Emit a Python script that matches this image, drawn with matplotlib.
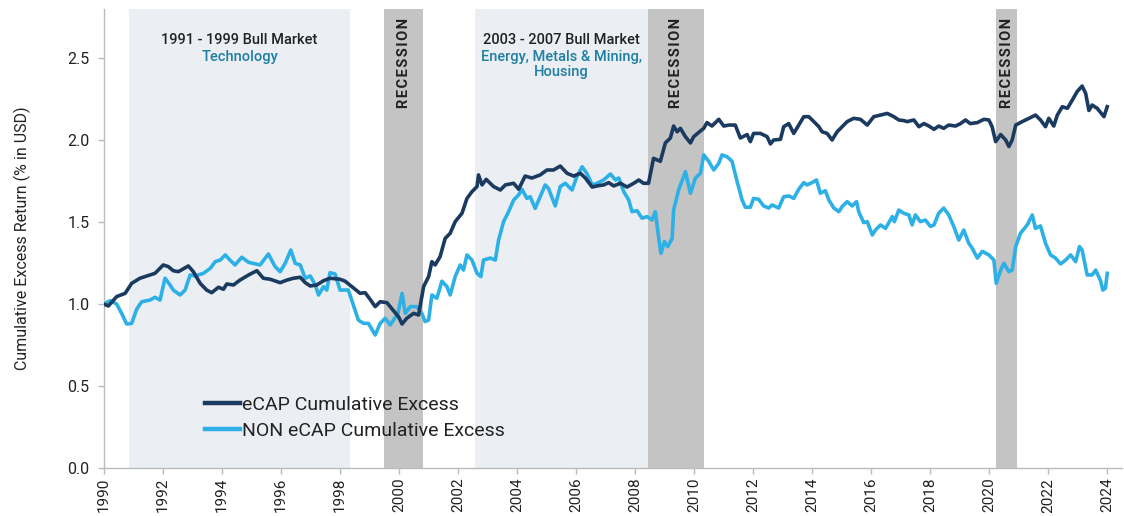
import matplotlib
matplotlib.use("Agg")
import matplotlib.pyplot as plt

plt.rcParams['font.family'] = ['Roboto', 'DejaVu Sans']

# ---------------- data ----------------
ecap_years = [1990.00, 1990.16, 1990.44, 1990.73, 1990.95, 1991.23, 1991.57, 1991.74, 1992.02, 1992.19,
              1992.36, 1992.53, 1992.87, 1993.04, 1993.27, 1993.49, 1993.66, 1993.89, 1994.06, 1994.17,
              1994.40, 1994.62, 1994.91, 1995.19, 1995.41, 1995.64, 1995.98, 1996.21, 1996.43, 1996.66,
              1996.83, 1997.00, 1997.22, 1997.45, 1997.67, 1998.01, 1998.18, 1998.41, 1998.69, 1998.86,
              1999.03, 1999.20, 1999.37, 1999.60, 1999.82, 1999.99, 2000.11, 2000.27, 2000.50, 2000.67,
              2000.84, 2001.01, 2001.12, 2001.23, 2001.40, 2001.57, 2001.74, 2001.91, 2002.14, 2002.31,
              2002.48, 2002.65, 2002.70, 2002.82, 2002.96, 2003.21, 2003.44, 2003.61, 2003.89, 2004.06,
              2004.28, 2004.51, 2004.79, 2005.02, 2005.24, 2005.47, 2005.70, 2005.92, 2006.15, 2006.32,
              2006.55, 2006.72, 2006.94, 2007.11, 2007.28, 2007.51, 2007.73, 2007.96, 2008.13, 2008.29,
              2008.46, 2008.63, 2008.86, 2009.03, 2009.20, 2009.31, 2009.43, 2009.54, 2009.71, 2009.88,
              2009.99, 2010.16, 2010.33, 2010.44, 2010.61, 2010.84, 2011.01, 2011.18, 2011.40, 2011.57,
              2011.80, 2011.91, 2012.02, 2012.25, 2012.48, 2012.59, 2012.70, 2012.93, 2013.04, 2013.21,
              2013.38, 2013.55, 2013.72, 2013.89, 2014.06, 2014.23, 2014.34, 2014.51, 2014.68, 2014.85,
              2015.02, 2015.19, 2015.41, 2015.64, 2015.87, 2016.09, 2016.32, 2016.55, 2016.77, 2016.94,
              2017.11, 2017.22, 2017.45, 2017.62, 2017.79, 2017.96, 2018.13, 2018.29, 2018.46, 2018.63,
              2018.86, 2019.03, 2019.20, 2019.36, 2019.60, 2019.82, 2019.99, 2020.10, 2020.22, 2020.39,
              2020.56, 2020.67, 2020.78, 2020.90, 2021.12, 2021.35, 2021.57, 2021.74, 2021.91, 2022.02,
              2022.19, 2022.31, 2022.48, 2022.65, 2022.82, 2022.98, 2023.15, 2023.27, 2023.38, 2023.49,
              2023.66, 2023.89, 2024.00]
ecap_values = [1.000, 0.988, 1.045, 1.065, 1.126, 1.157, 1.177, 1.187, 1.238, 1.228,
               1.203, 1.197, 1.232, 1.197, 1.126, 1.085, 1.069, 1.102, 1.090, 1.122,
               1.116, 1.146, 1.177, 1.203, 1.157, 1.151, 1.130, 1.146, 1.157, 1.163,
               1.130, 1.110, 1.116, 1.142, 1.157, 1.151, 1.139, 1.106, 1.065, 1.069,
               1.028, 0.984, 1.014, 1.008, 0.959, 0.923, 0.878, 0.913, 0.943, 0.933,
               1.106, 1.167, 1.258, 1.238, 1.289, 1.400, 1.431, 1.502, 1.553, 1.644,
               1.685, 1.716, 1.787, 1.726, 1.760, 1.716, 1.695, 1.726, 1.736, 1.700,
               1.780, 1.768, 1.787, 1.817, 1.817, 1.841, 1.797, 1.780, 1.797, 1.768,
               1.713, 1.720, 1.726, 1.740, 1.720, 1.736, 1.713, 1.736, 1.756, 1.736,
               1.736, 1.888, 1.870, 1.982, 2.012, 2.085, 2.050, 2.071, 2.020, 1.982,
               2.020, 2.046, 2.071, 2.106, 2.085, 2.126, 2.085, 2.091, 2.091, 2.012,
               2.033, 1.990, 2.040, 2.040, 2.020, 1.976, 2.000, 2.004, 2.081, 2.100,
               2.040, 2.091, 2.142, 2.142, 2.112, 2.081, 2.050, 2.040, 2.000, 2.050,
               2.081, 2.112, 2.132, 2.126, 2.091, 2.142, 2.152, 2.162, 2.142, 2.122,
               2.118, 2.112, 2.122, 2.081, 2.100, 2.085, 2.065, 2.085, 2.071, 2.091,
               2.085, 2.100, 2.122, 2.100, 2.106, 2.126, 2.122, 2.081, 1.990, 2.033,
               2.000, 1.960, 2.000, 2.091, 2.112, 2.132, 2.152, 2.122, 2.081, 2.132,
               2.085, 2.152, 2.203, 2.193, 2.244, 2.295, 2.329, 2.284, 2.180, 2.213,
               2.193, 2.142, 2.203]

non_years = [1990.00, 1990.22, 1990.44, 1990.61, 1990.78, 1990.95, 1991.12, 1991.29, 1991.57, 1991.74,
             1991.91, 1992.08, 1992.25, 1992.36, 1992.59, 1992.76, 1992.93, 1993.10, 1993.38, 1993.61,
             1993.78, 1993.95, 1994.12, 1994.28, 1994.45, 1994.68, 1994.91, 1995.30, 1995.58, 1995.81,
             1995.98, 1996.15, 1996.34, 1996.49, 1996.66, 1996.83, 1997.00, 1997.17, 1997.28, 1997.45,
             1997.56, 1997.67, 1997.84, 1998.01, 1998.29, 1998.46, 1998.63, 1998.80, 1998.97, 1999.20,
             1999.37, 1999.54, 1999.71, 1999.82, 1999.97, 2000.11, 2000.22, 2000.39, 2000.61, 2000.78,
             2000.89, 2001.01, 2001.12, 2001.29, 2001.46, 2001.63, 2001.74, 2001.91, 2002.08, 2002.19,
             2002.31, 2002.48, 2002.65, 2002.78, 2002.87, 2003.10, 2003.27, 2003.38, 2003.55, 2003.72,
             2003.89, 2004.06, 2004.17, 2004.34, 2004.45, 2004.62, 2004.79, 2004.96, 2005.07, 2005.30,
             2005.47, 2005.64, 2005.87, 2006.04, 2006.21, 2006.38, 2006.55, 2006.72, 2006.94, 2007.17,
             2007.34, 2007.45, 2007.62, 2007.79, 2007.90, 2008.07, 2008.24, 2008.41, 2008.58, 2008.69,
             2008.80, 2008.88, 2009.00, 2009.11, 2009.26, 2009.31, 2009.48, 2009.71, 2009.88, 2010.05,
             2010.22, 2010.33, 2010.50, 2010.67, 2010.84, 2010.95, 2011.12, 2011.29, 2011.46, 2011.63,
             2011.74, 2011.91, 2012.02, 2012.19, 2012.36, 2012.53, 2012.65, 2012.87, 2013.04, 2013.21,
             2013.38, 2013.55, 2013.72, 2013.83, 2014.00, 2014.15, 2014.28, 2014.45, 2014.57, 2014.74,
             2014.91, 2015.02, 2015.19, 2015.36, 2015.51, 2015.58, 2015.75, 2015.87, 2016.04, 2016.15,
             2016.32, 2016.49, 2016.72, 2016.79, 2016.94, 2017.11, 2017.28, 2017.39, 2017.50, 2017.67,
             2017.84, 2018.01, 2018.13, 2018.29, 2018.46, 2018.63, 2018.80, 2018.97, 2019.14, 2019.31,
             2019.43, 2019.60, 2019.77, 2019.99, 2020.16, 2020.24, 2020.39, 2020.50, 2020.67, 2020.78,
             2020.90, 2021.06, 2021.29, 2021.46, 2021.57, 2021.74, 2021.91, 2022.08, 2022.25, 2022.42,
             2022.59, 2022.76, 2022.93, 2023.06, 2023.15, 2023.32, 2023.49, 2023.61, 2023.78, 2023.85,
             2023.94, 2024.00]
non_values = [1.000, 1.020, 1.000, 0.943, 0.878, 0.882, 0.968, 1.014, 1.024, 1.041,
              1.024, 1.157, 1.116, 1.085, 1.055, 1.085, 1.177, 1.171, 1.187, 1.217,
              1.258, 1.268, 1.299, 1.268, 1.238, 1.285, 1.254, 1.238, 1.305, 1.228,
              1.197, 1.248, 1.329, 1.248, 1.238, 1.157, 1.171, 1.116, 1.055, 1.106,
              1.085, 1.191, 1.183, 1.085, 1.085, 0.994, 0.902, 0.882, 0.882, 0.811,
              0.882, 0.913, 0.872, 0.902, 0.943, 1.065, 0.943, 0.984, 0.984, 0.943,
              0.893, 0.902, 1.055, 1.035, 1.139, 1.106, 1.055, 1.167, 1.238, 1.207,
              1.299, 1.268, 1.187, 1.167, 1.268, 1.280, 1.268, 1.390, 1.502, 1.563,
              1.634, 1.665, 1.700, 1.644, 1.654, 1.583, 1.654, 1.726, 1.705, 1.598,
              1.716, 1.736, 1.695, 1.780, 1.837, 1.793, 1.726, 1.736, 1.756, 1.793,
              1.756, 1.768, 1.685, 1.634, 1.563, 1.569, 1.523, 1.533, 1.512, 1.563,
              1.410, 1.309, 1.380, 1.350, 1.400, 1.573, 1.695, 1.807, 1.675, 1.768,
              1.797, 1.909, 1.870, 1.817, 1.858, 1.909, 1.898, 1.870, 1.748, 1.634,
              1.590, 1.590, 1.644, 1.638, 1.598, 1.585, 1.604, 1.585, 1.654, 1.659,
              1.644, 1.700, 1.740, 1.726, 1.740, 1.756, 1.675, 1.691, 1.634, 1.585,
              1.563, 1.594, 1.624, 1.598, 1.624, 1.563, 1.496, 1.502, 1.421, 1.451,
              1.482, 1.461, 1.533, 1.502, 1.573, 1.553, 1.543, 1.482, 1.543, 1.502,
              1.512, 1.473, 1.482, 1.553, 1.585, 1.543, 1.473, 1.390, 1.451, 1.370,
              1.339, 1.280, 1.321, 1.299, 1.268, 1.126, 1.207, 1.248, 1.197, 1.207,
              1.350, 1.431, 1.482, 1.543, 1.461, 1.476, 1.370, 1.299, 1.280, 1.244,
              1.268, 1.299, 1.258, 1.350, 1.329, 1.177, 1.177, 1.207, 1.139, 1.085,
              1.096, 1.187]

bull_periods = [(1990.86, 1998.35), (2002.59, 2008.45)]
bull_titles = ["1991 - 1999 Bull Market", "2003 - 2007 Bull Market"]
bull_sectors = ["Technology", "Energy, Metals & Mining,\nHousing"]
recession_periods = [(1999.50, 2000.83), (2008.45, 2010.35), (2020.22, 2020.96)]
recession_label = "RECESSION"

x_ticks = list(range(1990, 2025, 2))
y_ticks = [0.0, 0.5, 1.0, 1.5, 2.0, 2.5]
series_labels = ["eCAP Cumulative Excess", "NON eCAP Cumulative Excess"]
y_label = "Cumulative Excess Return (% in USD)"

# ---------------- style ----------------
DARK = "#1B3A5F"
LIGHT = "#2DB0E5"
BULL_FILL = "#EBEEF3"
REC_FILL = "#C4C4C4"
TEAL = "#1E7FA3"
TXT = "#222222"

fig = plt.figure(figsize=(11.24, 5.16), dpi=100)
ax = fig.add_axes([0.0922, 0.093, 0.906, 0.890])

for (a, b) in bull_periods:
    ax.axvspan(a, b, color=BULL_FILL, lw=0, zorder=0)
for (a, b) in recession_periods:
    ax.axvspan(a, b, color=REC_FILL, lw=0, zorder=0.5)

ax.plot(ecap_years, ecap_values, color=DARK, lw=2.6, label=series_labels[0], zorder=3,
        solid_joinstyle='round')
ax.plot(non_years, non_values, color=LIGHT, lw=2.6, label=series_labels[1], zorder=2,
        solid_joinstyle='round')

ax.set_xlim(1990, 2024.5)
ax.set_ylim(0, 2.8)
ax.set_xticks(x_ticks)
ax.set_xticklabels([str(t) for t in x_ticks], rotation=90, fontsize=11, color=TXT)
ax.set_yticks(y_ticks)
ax.set_yticklabels([f"{t:.1f}" for t in y_ticks], fontsize=11.5, color=TXT)
ax.tick_params(axis='both', length=4, color="#BBBBBB", width=1)
ax.tick_params(axis='x', pad=3)
ax.tick_params(axis='y', pad=6)
for s in ['top', 'right']:
    ax.spines[s].set_visible(False)
for s in ['left', 'bottom']:
    ax.spines[s].set_color("#BBBBBB")
    ax.spines[s].set_linewidth(1)
ax.set_ylabel(y_label, fontsize=11.5, color=TXT, labelpad=26)

# annotations
for (a, b), t, s in zip(bull_periods, bull_titles, bull_sectors):
    cx = (a + b) / 2
    ax.text(cx, 2.61, t, ha='center', va='center', fontsize=10.5, color=TXT, fontweight='medium')
    ax.text(cx, 2.548, s, ha='center', va='top', fontsize=10.5, color=TEAL,
            fontweight='medium', linespacing=1.12)

spaced = "\u200a".join(recession_label)
for (a, b) in recession_periods:
    ax.text((a + b) / 2, 2.745, spaced, rotation=90, ha='center', va='top',
            fontsize=10.5, fontweight='bold', color=TXT)

leg = ax.legend(loc='center left', bbox_to_anchor=(0.1, 0.109), frameon=False,
                fontsize=14, handlelength=1.8, handletextpad=0.1, labelspacing=0.42,
                borderpad=0, borderaxespad=0)
for h in leg.get_lines():
    h.set_linewidth(3.2)
for t in leg.get_texts():
    t.set_color(TXT)

fig.savefig("out.png", dpi=100)
